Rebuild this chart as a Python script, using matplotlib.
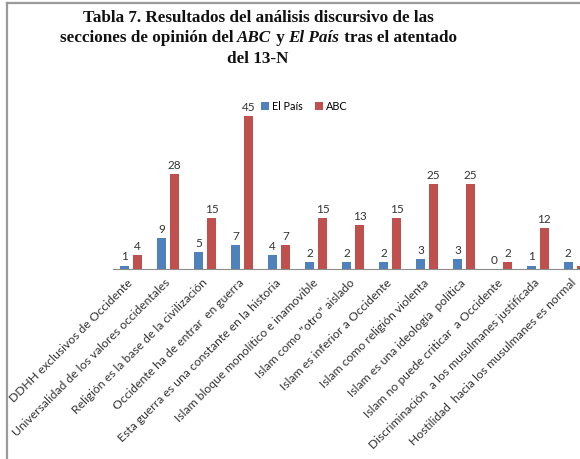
import numpy as np
import matplotlib.pyplot as plt
from matplotlib.lines import Line2D

categorias = [
    'DDHH exclusivos de Occidente',
    'Universalidad de los valores occidentales',
    'Religión es la base de la civilización',
    'Occidente ha de entrar  en guerra',
    'Esta guerra es una constante en la historia',
    'Islam bloque monolítico e inamovible',
    'Islam como "otro" aislado',
    'Islam es inferior a Occidente',
    'Islam como religión violenta',
    'Islam es una ideología  política',
    'Islam no puede criticar  a Occidente',
    'Discriminación  a los musulmanes justificada',
    'Hostilidad  hacia los musulmanes es normal',
]
el_pais = [1, 9, 5, 7, 4, 2, 2, 2, 3, 3, 0, 1, 2]
abc = [4, 28, 15, 45, 7, 15, 13, 15, 25, 25, 2, 12, 1]

AZUL = '#4F81BD'
ROJO = '#C0504D'
W, H = 580, 460

fig = plt.figure(figsize=(W / 100, H / 100), dpi=100)

# marco gris (solo izquierda y arriba)
fig.add_artist(Line2D([7 / W, 7 / W], [0, 1 - 4 / H], color='#9a9a9a', lw=1.6))
fig.add_artist(Line2D([7 / W, 1], [1 - 4 / H, 1 - 4 / H], color='#9a9a9a', lw=1.6))

ax = fig.add_axes([113 / W, 1 - 270 / H, 1 - 113 / W, 170 / H])
x = np.arange(len(categorias))
w = 0.26
b1 = ax.bar(x - 0.176, el_pais, w, color=AZUL, label='El País')
b2 = ax.bar(x + 0.176, abc, w, color=ROJO, label='ABC')
ax.bar_label(b1, padding=3, fontsize=8.5, family='Lato', color='#333333')
ax.bar_label(b2, padding=3, fontsize=8.5, family='Lato', color='#333333')

ax.set_xlim(-0.49, 12.14)
ax.set_ylim(0, 50)
for s in ['left', 'right', 'top']:
    ax.spines[s].set_visible(False)
ax.spines['bottom'].set_color('#8c8c8c')
ax.set_yticks([])
ax.set_xticks(x)
ax.set_xticklabels(categorias, rotation=45, ha='right', va='center', rotation_mode='anchor',
                   fontsize=8.7, family='Lato', color='#333333')
ax.tick_params(axis='x', length=0, pad=8)

ax.legend(loc='center left', bbox_to_anchor=(256 / W, 1 - 107 / H),
          bbox_transform=fig.transFigure, ncol=2, frameon=False,
          prop={'family': 'Lato', 'size': 7.8}, handlelength=0.7,
          handleheight=0.7, handletextpad=0.3, columnspacing=1.1, borderpad=0)

# titulo con partes en cursiva
fig.canvas.draw()
r = fig.canvas.get_renderer()
tit = dict(family='Liberation Serif', weight='bold', size=12.3, color='#111111', va='center')
cx = 258 / W
fig.text(cx, 1 - 18 / H, 'Tabla 7. Resultados del análisis discursivo de las', ha='center', **tit)
fig.text(cx, 1 - 59 / H, 'del 13-N', ha='center', **tit)

partes = [('secciones de opinión del ', 'normal'), ('ABC', 'italic'), (' y ', 'normal'),
          ('El País', 'italic'), (' tras el atentado', 'normal')]
textos = [fig.text(0, 1 - 38.5 / H, t, ha='left', style=st, **tit) for t, st in partes]
anchos = [t.get_window_extent(r).width for t in textos]
pos = cx * W - sum(anchos) / 2
for t, a in zip(textos, anchos):
    t.set_x(pos / W)
    pos += a

fig.savefig('out.png', dpi=100)
